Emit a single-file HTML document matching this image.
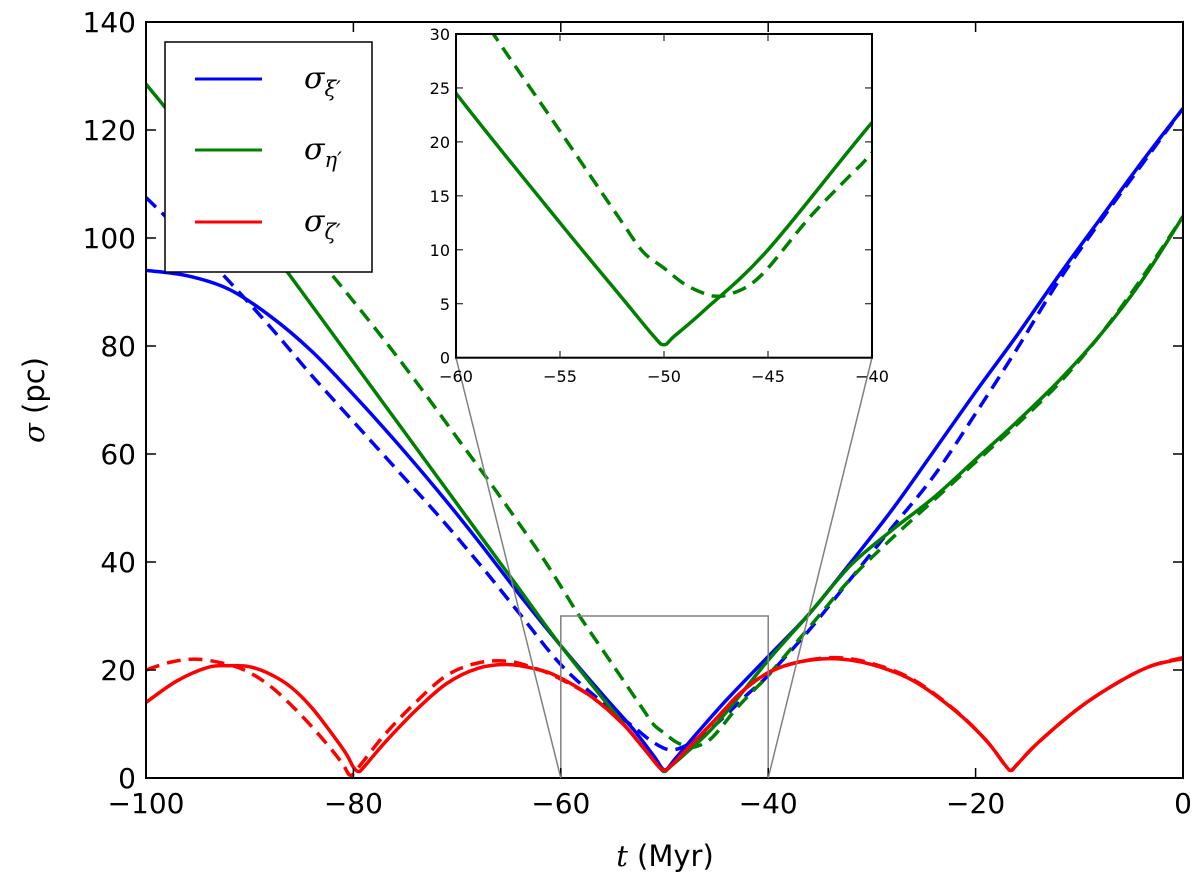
<!DOCTYPE html>
<html><head><meta charset="utf-8"><style>
html,body{margin:0;padding:0;background:#fff;}
svg{display:block;font-family:"DejaVu Sans","Liberation Sans",sans-serif;}
</style></head><body>
<svg id="chart" width="1200" height="884" viewBox="0 0 1200 884">
<defs>
<clipPath id="mainclip"><rect x="146" y="22" width="1037" height="756"/></clipPath>
<clipPath id="insetclip"><rect x="456" y="34" width="416" height="323.7"/></clipPath>
</defs>
<g id="main" clip-path="url(#mainclip)"></g>
<g id="mainaxes"></g>
<g id="legend">
<rect x="165" y="42" width="207" height="230" fill="#fff" stroke="#000" stroke-width="1.5"/>
<line x1="195" y1="79" x2="262" y2="79" stroke="#0000ff" stroke-width="3"/>
<line x1="195" y1="150" x2="262" y2="150" stroke="#008000" stroke-width="3"/>
<line x1="195" y1="222" x2="262" y2="222" stroke="#ff0000" stroke-width="3"/>
<text x="304" y="88" font-family="DejaVu Serif,serif" font-style="italic" font-size="30">σ<tspan font-size="21" dy="8">ξ′</tspan></text>
<text x="304" y="159" font-family="DejaVu Serif,serif" font-style="italic" font-size="30">σ<tspan font-size="21" dy="8">η′</tspan></text>
<text x="304" y="231" font-family="DejaVu Serif,serif" font-style="italic" font-size="30">σ<tspan font-size="21" dy="8">ζ′</tspan></text>
</g>
<g id="zoomlines"></g>
<rect x="456" y="34" width="416" height="323.7" fill="#fff"/>
<g id="inset" clip-path="url(#insetclip)"></g>
<g id="insetaxes"></g>
<text x="665" y="866" text-anchor="middle" font-size="29"><tspan font-family="DejaVu Serif,serif" font-style="italic">t</tspan> (Myr)</text>
<text transform="translate(44,400) rotate(-90)" text-anchor="middle" font-size="29"><tspan font-family="DejaVu Serif,serif" font-style="italic">σ</tspan> (pc)</text>
</svg>
<script>
const xTicks = [-100, -80, -60, -40, -20, 0];
const yTicks = [0, 20, 40, 60, 80, 100, 120, 140];
const insetXTicks = [-60, -55, -50, -45, -40];
const insetYTicks = [0, 5, 10, 15, 20, 25, 30];

const blueSolidT = [-100,-96,-92,-88,-84,-80,-76,-72,-68,-64,-60,-56,-53,-51,-50,-49,-47,-44,-40,-36,-32,-28,-24,-20,-16,-12,-8,-4,0];
const blueSolidV = [94,93,90.5,85.5,79,71,62.5,53.5,44,34,24.5,15.5,9,4,1.5,3.5,8,14.5,22.5,30.5,40,49.8,60.6,71.5,82,93,103.5,114,124];
const blueDashT = [-100,-96,-92,-88,-84,-80,-76,-72,-68,-64,-60,-56,-53,-51,-49.2,-47,-45,-42,-40,-36,-32,-28,-24,-20,-16,-12,-8,-4,0];
const blueDashV = [107.5,100,92,83.5,74.5,66,57.5,49,40,30.5,21,14,9.5,6.5,5.2,7,10,15.5,19,27.5,37,46.5,56,67.5,79.5,92,103,113.5,124];
const greenSolidT = [-100,-96,-92,-88,-84,-80,-76,-72,-68,-64,-60,-55,-52,-50.5,-50,-49.5,-48,-45,-40,-36,-32,-28,-24,-20,-16,-12,-8,-4,0];
const greenSolidV = [128.5,119,108.5,98,87.5,77,66.5,56,45.5,35,24.5,12.5,5.5,2,1.2,2,4.5,10,21.8,30.5,39.5,46,52,59,66,73.5,82,92,104];
const greenDashT = [-82,-78,-74,-70,-66,-62,-60,-58.2,-55,-52,-51,-50,-49,-48,-47.5,-47,-46,-45,-43,-41,-40,-36,-32,-28,-24,-20,-16,-12,-8,-4,0];
const greenDashV = [93,83.5,73.5,63,52.5,41.5,35.5,30,21,12.5,9.8,8.3,6.8,5.9,5.7,5.8,6.6,8.3,13,17,19,28,37,44.5,51.5,58.5,65.5,73,82,92.5,104];
const redSolidT = [-100,-97,-94,-92,-90,-88,-86,-84,-82,-80.7,-80,-79.5,-79,-77,-74,-71,-68,-65,-62,-60,-57,-54,-52,-50.5,-50,-49.5,-48,-45,-42.7,-40,-37,-33.5,-30,-26,-22,-19,-17.2,-16.6,-16,-14,-10,-6,-3,0];
const redSolidV = [14,18,20.5,20.8,20.6,19.2,16.8,13,8,4.5,2,1.2,2,6.5,12.5,17.5,20.3,21,20,18.5,15,10,5.5,2,1.5,2,5,11,15.7,19.5,21.5,22.1,21,18,12.5,7,2.5,1.4,2.5,6.5,13,18,20.8,22.1];
const redDashT = [-100,-97.5,-95,-92,-90,-88,-86,-84,-82,-81,-80.3,-79.5,-77,-74,-71,-68,-65,-62,-60,-57,-54,-52,-50.5,-50,-49.5,-48,-45,-42.7,-40,-37,-33.5,-30,-26,-22,-19,-17.2,-16.6,-16,-14,-10,-6,-3,0];
const redDashV = [20,21.5,22,21,19.5,17,13.5,9.5,5,2.5,0.5,2,8,14,19,21.3,21.6,20,18.3,15,10,5.5,2,1.5,2,5,11,15.7,19.5,21.5,22.3,21.2,18.2,12.6,7,2.5,1.4,2.5,6.5,13,18,20.8,22.3];

const NS = 'http://www.w3.org/2000/svg';
const mx = t => 146 + (t + 100) * 10.37;
const my = v => 778 - v * 5.4;
const ix = t => 456 + (t + 60) * 20.8;
const iy = v => 357.7 - v * 10.79;

function mk(tag, attrs, parent) {
  const e = document.createElementNS(NS, tag);
  for (const k in attrs) e.setAttribute(k, attrs[k]);
  parent.appendChild(e);
  return e;
}
function pathD(ts, vs, fx, fy) {
  const p = ts.map((t, i) => [fx(t), fy(vs[i])]);
  let d = 'M' + p[0][0].toFixed(1) + ',' + p[0][1].toFixed(1);
  for (let i = 0; i < p.length - 1; i++) {
    const p0 = p[i - 1] || p[i], p1 = p[i], p2 = p[i + 1], p3 = p[i + 2] || p2;
    const c1 = [p1[0] + (p2[0] - p0[0]) / 6, p1[1] + (p2[1] - p0[1]) / 6];
    const c2 = [p2[0] - (p3[0] - p1[0]) / 6, p2[1] - (p3[1] - p1[1]) / 6];
    d += ' C' + c1.map(n => n.toFixed(1)).join(',') + ' ' + c2.map(n => n.toFixed(1)).join(',') + ' ' + p2.map(n => n.toFixed(1)).join(',');
  }
  return d;
}
const main = document.getElementById('main');
const series = [
  ['blue-dashed-line', blueDashT, blueDashV, '#0000ff', true],
  ['green-dashed-line', greenDashT, greenDashV, '#008000', true],
  ['red-dashed-line', redDashT, redDashV, '#ff0000', true],
  ['blue-solid-line', blueSolidT, blueSolidV, '#0000ff', false],
  ['green-solid-line', greenSolidT, greenSolidV, '#008000', false],
  ['red-solid-line', redSolidT, redSolidV, '#ff0000', false]
];
series.forEach(s => {
  const el = mk('path', {d: pathD(s[1], s[2], mx, my), fill: 'none', stroke: s[3], 'stroke-width': 3.5, 'stroke-dasharray': s[4] ? '14 8' : 'none'}, main);
  
  
});
const zr = mk('rect', {x: mx(-60), y: my(30), width: mx(-40) - mx(-60), height: my(0) - my(30), fill: 'none', stroke: '#808080', 'stroke-width': 1.5}, main);



const zl = document.getElementById('zoomlines');
const l1 = mk('line', {x1: mx(-60), y1: my(0), x2: 456, y2: 357.7, stroke: '#808080', 'stroke-width': 1.5}, zl);


const l2 = mk('line', {x1: mx(-40), y1: my(0), x2: 872, y2: 357.7, stroke: '#808080', 'stroke-width': 1.5}, zl);



const ma = document.getElementById('mainaxes');
const frame = mk('rect', {x: 146, y: 22, width: 1037, height: 756, fill: 'none', stroke: '#000', 'stroke-width': 2}, ma);


xTicks.forEach(t => {
  const x = mx(t);
  mk('line', {x1: x, y1: 778, x2: x, y2: 768, stroke: '#000', 'stroke-width': 1.5}, ma);
  mk('line', {x1: x, y1: 22, x2: x, y2: 32, stroke: '#000', 'stroke-width': 1.5}, ma);
  const tx = mk('text', {x: x, y: 813, 'text-anchor': 'middle', 'font-size': 28}, ma);
  tx.textContent = t < 0 ? '\u2212' + (-t) : String(t);
  
  
});
yTicks.forEach(v => {
  const y = my(v);
  mk('line', {x1: 146, y1: y, x2: 156, y2: y, stroke: '#000', 'stroke-width': 1.5}, ma);
  mk('line', {x1: 1183, y1: y, x2: 1173, y2: y, stroke: '#000', 'stroke-width': 1.5}, ma);
  const tx = mk('text', {x: 136, y: y + 10, 'text-anchor': 'end', 'font-size': 28}, ma);
  tx.textContent = String(v);
  
  
});

const ins = document.getElementById('inset');
[['inset-green-dashed-line', greenDashT, greenDashV, true], ['inset-green-solid-line', greenSolidT, greenSolidV, false]].forEach(s => {
  const el = mk('path', {d: pathD(s[1], s[2], ix, iy), fill: 'none', stroke: '#008000', 'stroke-width': 3.5, 'stroke-dasharray': s[3] ? '14 8' : 'none'}, ins);
  
  
});
const ia = document.getElementById('insetaxes');
const iframe = mk('rect', {x: 456, y: 34, width: 416, height: 323.7, fill: 'none', stroke: '#000', 'stroke-width': 2}, ia);


insetXTicks.forEach(t => {
  const x = ix(t);
  mk('line', {x1: x, y1: 357.7, x2: x, y2: 351, stroke: '#000', 'stroke-width': 1}, ia);
  mk('line', {x1: x, y1: 34, x2: x, y2: 41, stroke: '#000', 'stroke-width': 1}, ia);
  const tx = mk('text', {x: x, y: 382, 'text-anchor': 'middle', 'font-size': 16}, ia);
  tx.textContent = t < 0 ? '\u2212' + (-t) : String(t);
  
  
});
insetYTicks.forEach(v => {
  const y = iy(v);
  mk('line', {x1: 456, y1: y, x2: 463, y2: y, stroke: '#000', 'stroke-width': 1}, ia);
  mk('line', {x1: 872, y1: y, x2: 865, y2: y, stroke: '#000', 'stroke-width': 1}, ia);
  const tx = mk('text', {x: 450, y: y + 6, 'text-anchor': 'end', 'font-size': 16}, ia);
  tx.textContent = String(v);
  
  
});
</script>
</body></html>
